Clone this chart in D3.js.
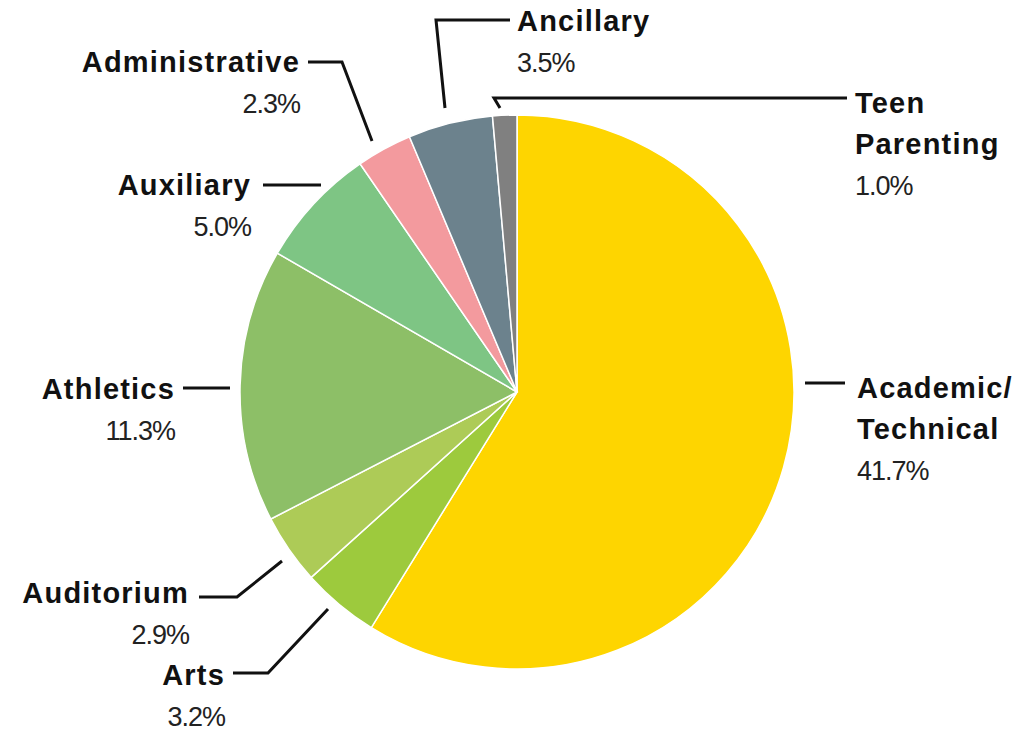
<!DOCTYPE html>
<html>
<head>
<meta charset="utf-8">
<script src="https://cdn.jsdelivr.net/npm/d3@7"></script>
<style>
  body { margin: 0; background: #fff; }
  .name { font-family: "Liberation Sans", Arial, sans-serif; font-weight: bold; font-size: 29px; letter-spacing: 1.2px; fill: #111; }
  .pct { font-family: "Liberation Sans", Arial, sans-serif; font-size: 27px; letter-spacing: -1px; fill: #222; }
</style>
</head>
<body>
<div id="chart"></div>
<script>
// slices, clockwise from 12 o'clock
let categories = ["Academic/Technical", "Arts", "Auditorium", "Athletics", "Auxiliary", "Administrative", "Ancillary", "Teen Parenting"];
let percents = [41.7, 3.2, 2.9, 11.3, 5.0, 2.3, 3.5, 1.0];
let colors = ["#FED500", "#9DCA3D", "#ADCB57", "#8DBF67", "#7EC584", "#F39A9E", "#6C828D", "#808080"];

let width = 1029;
let height = 731;
let cx = 517, cy = 392, radius = 277;

// where each label and its leader line go (layout only)
let labelLayout = [
    { lines: ["Academic/", "Technical"], anchor: "start", x: 857, y: 398, leader: [[805, 383], [845, 383]] },
    { lines: ["Arts"], anchor: "end", x: 225, y: 685, leader: [[328, 609], [268, 673], [233, 673]] },
    { lines: ["Auditorium"], anchor: "end", x: 189, y: 603, leader: [[282, 561], [237, 597], [199, 597]] },
    { lines: ["Athletics"], anchor: "end", x: 175, y: 399, leader: [[230, 388], [183, 388]] },
    { lines: ["Auxiliary"], anchor: "end", x: 251, y: 195, leader: [[321, 185], [263, 185]] },
    { lines: ["Administrative"], anchor: "end", x: 300, y: 72, leader: [[372, 141], [342, 62], [308, 62]] },
    { lines: ["Ancillary"], anchor: "start", x: 517, y: 31, leader: [[445, 108], [436, 20], [510, 20]] },
    { lines: ["Teen", "Parenting"], anchor: "start", x: 855, y: 113, leader: [[500, 108], [494, 98], [847, 98]] }
];

let svg = d3.select("#chart")
    .append("svg")
    .attr("width", width)
    .attr("height", height);

let pie = d3.pie().sort(null).value(d => d);
let arc = d3.arc().innerRadius(0).outerRadius(radius);
let colorScale = d3.scaleOrdinal().domain(categories).range(colors);

let slices = pie(percents).map((p, i) => ({ ...p, name: categories[i] }));

svg.append("g")
    .attr("transform", `translate(${cx},${cy})`)
    .selectAll("path")
    .data(slices)
    .join("path")
    .attr("d", arc)
    .attr("fill", d => colorScale(d.name))
    .attr("stroke", "#fff")
    .attr("stroke-width", 1.5);

let line = d3.line();

let labels = svg.append("g")
    .selectAll("g")
    .data(slices)
    .join("g");

labels.append("path")
    .attr("d", (d, i) => line(labelLayout[i].leader))
    .attr("fill", "none")
    .attr("stroke", "#111")
    .attr("stroke-width", 3);

labels.each(function (d, i) {
    let g = d3.select(this);
    let lay = labelLayout[i];
    lay.lines.forEach((txt, j) => {
        g.append("text")
            .attr("class", "name")
            .attr("x", lay.x)
            .attr("y", lay.y + j * 41)
            .attr("text-anchor", lay.anchor)
            .text(txt);
    });
    g.append("text")
        .attr("class", "pct")
        .attr("x", lay.x)
        .attr("y", lay.y + lay.lines.length * 41)
        .attr("text-anchor", lay.anchor)
        .text(d.data.toFixed(1) + "%");
});
</script>
</body>
</html>
